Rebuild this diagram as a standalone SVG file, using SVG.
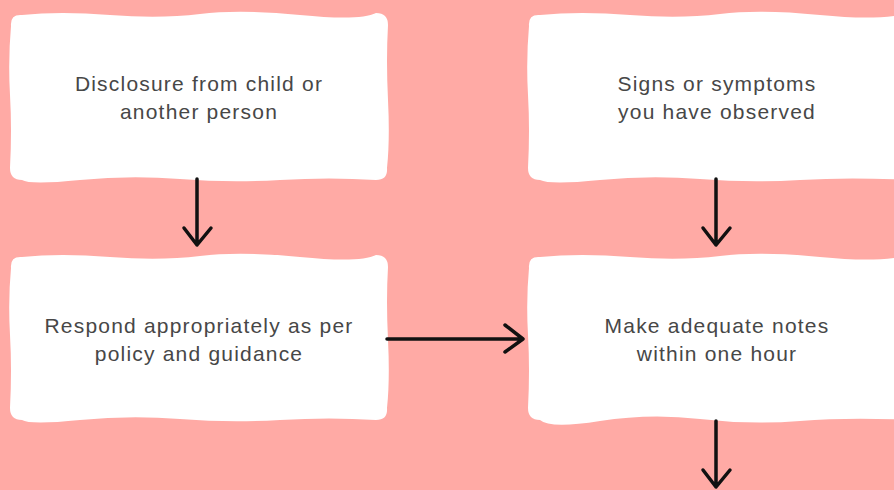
<svg xmlns="http://www.w3.org/2000/svg" width="894" height="490" viewBox="0 0 894 490">
<style>
.box{fill:#ffffff;stroke:none}
.lbl{font-family:"Liberation Sans",Arial,sans-serif;font-size:21px;fill:#474747;text-anchor:middle;letter-spacing:1.2px}
.conn{fill:none;stroke:#111;stroke-width:3.5;stroke-linecap:round;stroke-linejoin:round}
</style>
<rect width="894" height="490" fill="#ffaaa5"/>
<g id="n1">
<path class="box" d="M22,15 Q60,11 110,15 T200,14 T300,15 T376,13 Q388,13 388,25 Q386,60 388,100 T387,168 Q388,180 376,180 Q330,177 280,180 T180,179 T80,180 T22,180 Q10,180 10,168 Q12,130 10,95 T11,26 Q10,14 22,15 Z"/>
<text class="lbl" x="199" y="91">Disclosure from child or</text>
<text class="lbl" x="199" y="119">another person</text>
</g>
<g id="n2">
<path class="box" d="M540,15 Q580,11 630,15 T720,14 T820,15 T910,13 L910,180 Q850,177 800,180 T700,179 T600,180 T540,180 Q528,180 528,168 Q530,130 528,95 T529,26 Q528,14 540,15 Z"/>
<text class="lbl" x="717" y="91">Signs or symptoms</text>
<text class="lbl" x="717" y="119">you have observed</text>
</g>
<g id="n3">
<path class="box" d="M22,257 Q60,253 110,257 T200,256 T300,257 T376,255 Q388,255 388,267 Q386,300 388,340 T387,408 Q388,420 376,420 Q330,417 280,420 T180,419 T80,420 T22,420 Q10,420 10,408 Q12,370 10,335 T11,268 Q10,256 22,257 Z"/>
<text class="lbl" x="199" y="333">Respond appropriately as per</text>
<text class="lbl" x="199" y="361">policy and guidance</text>
</g>
<g id="n4">
<path class="box" d="M540,257 Q580,253 630,257 T720,256 T820,257 T910,255 L910,420 Q850,417 800,421 T700,419 T600,421 T540,420 Q528,420 528,408 Q530,370 528,335 T529,268 Q528,256 540,257 Z"/>
<text class="lbl" x="717" y="333">Make adequate notes</text>
<text class="lbl" x="717" y="361">within one hour</text>
</g>
<g id="connectors">
<path class="conn" d="M197,179 L197,245 M184,228 L197,245 L211,228"/>
<path class="conn" d="M716,179 L716,245 M703,228 L716,245 L730,228"/>
<path class="conn" d="M387,339 L523,339 M505,325 L523,339 L505,352"/>
<path class="conn" d="M716,421 L716,487 M703,470 L716,487 L730,470"/>
</g>
</svg>
